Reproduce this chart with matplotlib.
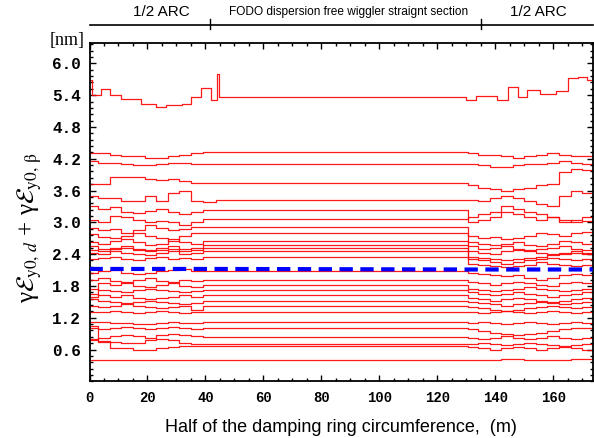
import matplotlib
matplotlib.use("Agg")
import matplotlib.pyplot as plt
import matplotlib.transforms as mtransforms
from matplotlib.ticker import MultipleLocator
import numpy as np

# ---------------- data ----------------
# common step breakpoints (m)
x_breaks = [0, 3, 7, 11, 15, 19, 23, 27, 31, 35, 39, 43.8,
            130.5, 134, 138, 142, 146, 150, 154, 158, 162, 166, 170, 173.6]

# top seed drawn with its own breakpoints
top_x = [0, 1, 4, 6.9, 11, 17.8, 23, 26.5, 32, 35, 38.6, 42, 44, 44.7,
         130, 133.5, 140.5, 144.5, 148, 150.8, 155.4, 161, 165, 168.6, 171.6, 173.6]
top_y = [5.69, 5.41, 5.51, 5.41, 5.33, 5.23, 5.18, 5.21, 5.24, 5.37, 5.53, 5.31, 5.80, 5.37,
         5.31, 5.39, 5.31, 5.55, 5.37, 5.50, 5.42, 5.48, 5.72, 5.74, 5.69, 5.69]

seeds = [
    [4.30, 4.30, 4.28, 4.25, 4.25, 4.22, 4.22, 4.25, 4.28, 4.30, 4.32, 4.32, 4.30, 4.28, 4.28, 4.25, 4.22, 4.25, 4.28, 4.30, 4.28, 4.25, 4.25, 4.25],
    [4.15, 4.12, 4.12, 4.10, 4.08, 4.08, 4.10, 4.12, 4.12, 4.10, 4.10, 4.10, 4.10, 4.08, 4.05, 4.05, 4.08, 4.10, 4.10, 4.12, 4.15, 4.12, 4.10, 4.10],
    [3.72, 3.72, 3.85, 3.85, 3.85, 3.82, 3.80, 3.82, 3.78, 3.75, 3.74, 3.74, 3.70, 3.65, 3.62, 3.60, 3.62, 3.65, 3.70, 3.72, 3.95, 4.00, 3.98, 3.98],
    [3.50, 3.45, 3.45, 3.40, 3.40, 3.50, 3.40, 3.55, 3.60, 3.40, 3.38, 3.42, 3.42, 3.40, 3.45, 3.50, 3.45, 3.40, 3.35, 3.30, 3.50, 3.60, 3.55, 3.55],
    [3.30, 3.25, 3.28, 3.20, 3.18, 3.22, 3.25, 3.20, 3.15, 3.20, 3.23, 3.23, 3.00, 3.05, 3.10, 3.20, 3.15, 3.10, 3.05, 3.10, 3.00, 3.05, 3.10, 3.10],
    [3.05, 3.00, 3.12, 3.10, 3.05, 3.00, 3.02, 3.00, 2.95, 3.00, 3.06, 3.06, 3.10, 3.15, 3.20, 3.30, 3.25, 3.20, 3.15, 3.10, 3.05, 3.00, 3.02, 3.02],
    [2.90, 2.85, 2.88, 2.80, 2.85, 2.95, 2.90, 2.85, 2.88, 2.92, 2.92, 2.92, 2.75, 2.70, 2.72, 2.68, 2.70, 2.75, 2.80, 2.78, 2.75, 2.80, 2.82, 2.82],
    [2.78, 2.72, 2.70, 2.75, 2.80, 2.75, 2.70, 2.65, 2.75, 2.80, 2.79, 2.79, 2.62, 2.60, 2.58, 2.60, 2.62, 2.58, 2.55, 2.60, 2.65, 2.62, 2.60, 2.60],
    [2.62, 2.60, 2.65, 2.68, 2.62, 2.58, 2.60, 2.68, 2.62, 2.60, 2.65, 2.65, 2.55, 2.50, 2.52, 2.55, 2.50, 2.48, 2.50, 2.52, 2.55, 2.50, 2.48, 2.48],
    [2.55, 2.50, 2.52, 2.55, 2.50, 2.48, 2.52, 2.55, 2.50, 2.52, 2.57, 2.57, 2.45, 2.42, 2.40, 2.45, 2.48, 2.45, 2.42, 2.40, 2.42, 2.45, 2.42, 2.42],
    [2.48, 2.45, 2.50, 2.52, 2.48, 2.45, 2.48, 2.50, 2.45, 2.48, 2.51, 2.51, 2.35, 2.32, 2.30, 2.28, 2.30, 2.32, 2.35, 2.38, 2.40, 2.42, 2.40, 2.40],
    [2.42, 2.40, 2.45, 2.42, 2.40, 2.38, 2.42, 2.45, 2.40, 2.42, 2.46, 2.46, 2.30, 2.28, 2.25, 2.22, 2.25, 2.28, 2.30, 2.32, 2.30, 2.28, 2.30, 2.30],
    [2.30, 2.32, 2.35, 2.30, 2.28, 2.32, 2.35, 2.30, 2.32, 2.30, 2.34, 2.34, 2.22, 2.20, 2.18, 2.15, 2.18, 2.20, 2.25, 2.22, 2.20, 2.18, 2.20, 2.20],
    [2.05, 2.08, 2.10, 2.05, 2.02, 2.05, 2.08, 2.10, 2.12, 2.08, 2.09, 2.09, 2.05, 2.02, 2.00, 1.98, 2.00, 1.95, 1.92, 1.95, 2.00, 2.02, 2.00, 2.00],
    [1.92, 1.95, 1.90, 1.88, 1.92, 1.95, 1.90, 1.88, 1.92, 1.90, 1.91, 1.91, 1.88, 1.85, 1.82, 1.85, 1.88, 1.85, 1.82, 1.80, 1.85, 1.88, 1.85, 1.85],
    [1.60, 1.85, 1.82, 1.85, 1.80, 1.78, 1.82, 1.85, 1.80, 1.78, 1.82, 1.82, 1.75, 1.72, 1.70, 1.72, 1.75, 1.78, 1.75, 1.72, 1.70, 1.72, 1.75, 1.75],
    [1.75, 1.72, 1.70, 1.68, 1.72, 1.75, 1.72, 1.70, 1.68, 1.70, 1.72, 1.72, 1.68, 1.65, 1.62, 1.65, 1.68, 1.65, 1.62, 1.60, 1.62, 1.65, 1.68, 1.68],
    [1.65, 1.62, 1.60, 1.62, 1.58, 1.55, 1.58, 1.60, 1.62, 1.60, 1.63, 1.63, 1.58, 1.55, 1.52, 1.55, 1.58, 1.55, 1.52, 1.50, 1.52, 1.55, 1.58, 1.58],
    [1.55, 1.52, 1.50, 1.48, 1.50, 1.52, 1.50, 1.48, 1.45, 1.48, 1.52, 1.52, 1.50, 1.48, 1.45, 1.42, 1.45, 1.48, 1.50, 1.48, 1.45, 1.48, 1.50, 1.50],
    [1.42, 1.40, 1.42, 1.45, 1.42, 1.40, 1.38, 1.40, 1.42, 1.35, 1.42, 1.42, 1.40, 1.38, 1.35, 1.32, 1.35, 1.38, 1.40, 1.42, 1.40, 1.38, 1.40, 1.40],
    [1.30, 1.30, 1.32, 1.30, 1.28, 1.30, 1.32, 1.30, 1.28, 1.30, 1.31, 1.31, 1.30, 1.28, 1.30, 1.32, 1.30, 1.28, 1.30, 1.32, 1.30, 1.28, 1.30, 1.30],
    [1.12, 1.12, 1.10, 1.10, 1.08, 1.08, 1.10, 1.12, 1.10, 1.10, 1.11, 1.11, 1.10, 1.12, 1.10, 1.08, 1.10, 1.12, 1.10, 1.08, 1.10, 1.12, 1.10, 1.10],
    [1.00, 0.98, 1.00, 1.02, 1.00, 0.98, 1.00, 1.02, 1.00, 0.98, 1.00, 1.00, 0.98, 0.95, 0.92, 0.90, 0.88, 0.90, 0.92, 0.95, 0.98, 1.00, 1.00, 1.00],
    [0.80, 0.82, 0.85, 0.88, 0.85, 0.82, 0.88, 0.90, 0.88, 0.85, 0.84, 0.84, 0.82, 0.80, 0.82, 0.85, 0.82, 0.80, 0.82, 0.85, 0.82, 0.80, 0.82, 0.82],
    [1.05, 0.75, 0.75, 0.72, 0.72, 0.78, 0.80, 0.78, 0.72, 0.70, 0.70, 0.70, 0.70, 0.72, 0.70, 0.68, 0.70, 0.72, 0.70, 0.68, 0.66, 0.68, 0.70, 0.70],
    [0.78, 0.76, 0.62, 0.62, 0.60, 0.60, 0.62, 0.64, 0.66, 0.66, 0.66, 0.66, 0.64, 0.62, 0.60, 0.62, 0.64, 0.62, 0.60, 0.62, 0.64, 0.62, 0.60, 0.60],
    [0.40, 0.40, 0.40, 0.40, 0.40, 0.40, 0.41, 0.41, 0.41, 0.40, 0.40, 0.40, 0.40, 0.41, 0.41, 0.42, 0.42, 0.41, 0.40, 0.40, 0.41, 0.42, 0.42, 0.42],
]

mean_x = [0, 43.8, 130.5, 173.6]
mean_y = [2.12, 2.12, 2.11, 2.11]

x_ticks = [0, 20, 40, 60, 80, 100, 120, 140, 160]
y_ticks = [0.6, 1.2, 1.8, 2.4, 3.0, 3.6, 4.2, 4.8, 5.4, 6.0]
section_bounds = [0, 41.5, 135, 173.6]
section_labels = ["1/2 ARC", "FODO dispersion free wiggler straignt section", "1/2 ARC"]
section_label_x = [24.9, 89.5, 154.9]

# ---------------- figure ----------------
plt.rcParams["mathtext.fontset"] = "stix"
fig = plt.figure(figsize=(5.94, 4.38), dpi=100)
ax = fig.add_axes([89.5 / 594, 1 - 381.3 / 438, (592.7 - 89.5) / 594, (381.3 - 42.7) / 438])

for s in seeds:
    ax.plot(x_breaks, s, drawstyle="steps-post", color="#ff0000", lw=0.9, alpha=0.9)
ax.plot(top_x, top_y, drawstyle="steps-post", color="#ff0000", lw=0.9, alpha=0.9)
ax.plot(mean_x, mean_y, color="#0000ff", lw=3.0, ls=(0, (3.2, 1.8)), zorder=5)

ax.set_xlim(0, 173.6)
ax.set_ylim(0, 6.39)
ax.set_xticks(x_ticks)
ax.set_yticks(y_ticks)
ax.xaxis.set_minor_locator(MultipleLocator(5))
ax.yaxis.set_minor_locator(MultipleLocator(0.12))
ax.tick_params(which="both", direction="in", top=True, right=True, width=1.0, color="black")
ax.tick_params(which="major", length=4.2)
ax.tick_params(which="minor", length=2.4)
for sp in ax.spines.values():
    sp.set_linewidth(1.3)

mono = {"family": "Liberation Mono", "weight": "bold"}
ax.set_xticklabels([str(t) for t in x_ticks], fontdict=dict(mono, size=10))
ax.set_yticklabels([f"{t:.1f}" for t in y_ticks], fontdict=dict(mono, size=11.5))
ax.tick_params(axis="x", pad=7)
ax.tick_params(axis="y", pad=6)

ax.set_xlabel("Half of the damping ring circumference,  (m)", family="Liberation Sans",
              fontsize=13, labelpad=10)

fig.text(30 / 594, 1 - 228 / 438,
         "\u03b3$\\mathcal{E}_{\\mathrm{y0},\\,d}$ + \u03b3$\\mathcal{E}_{\\mathrm{y0},\\,\\mathrm{\u03b2}}$",
         rotation=90, ha="center", va="center", fontsize=18, family="Liberation Serif")
fig.text(67 / 594, 1 - 41 / 438, "[nm]", family="Liberation Serif", fontsize=13,
         ha="center", va="center")

# top section band
trans = mtransforms.blended_transform_factory(ax.transData, fig.transFigure)
band_y = 1 - 24.7 / 438
ax.plot([section_bounds[0], section_bounds[-1]], [band_y, band_y], transform=trans,
        color="black", lw=1.2, clip_on=False)
for b in section_bounds[1:-1]:
    ax.plot([b, b], [1 - 19 / 438, 1 - 29 / 438], transform=trans, color="black", lw=1.0,
            clip_on=False)
for lbl, xl in zip(section_labels, section_label_x):
    fs = 11 if "ARC" in lbl else 8.6
    ax.text(xl, 1 - 12 / 438, lbl, transform=trans, ha="center", va="center",
            family="Liberation Sans", fontsize=fs)

fig.savefig("out.png", dpi=100)
